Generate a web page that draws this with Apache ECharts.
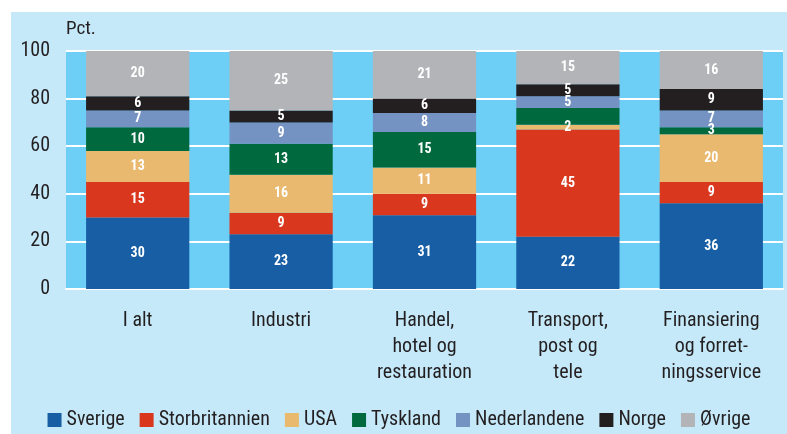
<!DOCTYPE html>
<html>
<head>
<meta charset="utf-8">
<title>Andel etter land</title>
<style>
  html, body { margin: 0; padding: 0; background: #fff; }
  #chart { position: absolute; left: 11px; top: 12px; width: 776px; height: 422px; }
</style>
</head>
<body>
<div id="chart"></div>
<script src="https://cdn.jsdelivr.net/npm/echarts@6/dist/echarts.min.js"></script>
<script>
// kategorier
var categories = ['I alt', 'Industri', 'Handel,\nhotel og\nrestauration', 'Transport,\npost og\ntele', 'Finansiering\nog forret-\nningsservice'];

// andel i pct. per land
var sverige        = [30, 23, 31, 22, 36];
var storbritannien = [15,  9,  9, 45,  9];
var usa            = [13, 16, 11,  2, 20];
var tyskland       = [10, 13, 15,  7,  3];
var nederlandene   = [ 7,  9,  8,  5,  7];
var norge          = [ 6,  5,  6,  5,  9];
var ovrige         = [20, 25, 21, 15, 16];

var countries = ['Sverige', 'Storbritannien', 'USA', 'Tyskland', 'Nederlandene', 'Norge', 'Øvrige'];
var values = [sverige, storbritannien, usa, tyskland, nederlandene, norge, ovrige];
var colors = ['#175ea4', '#d9381e', '#e8b96e', '#006a3e', '#7593c2', '#231f20', '#b3b4b7'];
// segments without a printed value: [series, category]
var unlabeled = [[3, 3]];

var font = '"Liberation Sans Narrow", "Roboto Condensed", "Noto Sans", sans-serif';

var series = countries.map(function (name, s) {
    return {
        name: name,
        type: 'bar',
        stack: 'total',
        barWidth: '72%',
        itemStyle: { color: colors[s] },
        label: {
            show: true,
            position: 'inside',
            color: '#fff',
            fontWeight: 'bold',
            fontSize: 14,
            fontFamily: font
        },
        emphasis: { disabled: true },
        data: values[s].map(function (v, c) {
            var hide = unlabeled.some(function (u) { return u[0] === s && u[1] === c; });
            return hide ? { value: v, label: { show: false } } : v;
        })
    };
});

var chart = echarts.init(document.getElementById('chart'));
chart.setOption({
    backgroundColor: '#c5e9f9',
    animation: false,
    textStyle: { fontFamily: font, color: '#231f20' },
    grid: {
        left: 55, right: 4, top: 39, bottom: 145,
        show: true, backgroundColor: '#6dcff6', borderWidth: 0
    },
    graphic: [{
        type: 'text', left: 55, top: 8,
        style: { text: 'Pct.', font: '19px ' + font, fill: '#231f20' }
    }],
    legend: {
        left: 'center', top: 393,
        itemWidth: 14, itemHeight: 14, itemGap: 15,
        icon: 'rect',
        textStyle: { fontSize: 20, color: '#231f20', fontFamily: font },
        data: countries
    },
    xAxis: {
        type: 'category',
        data: categories,
        axisLine: { lineStyle: { color: '#fff', width: 2 } },
        axisTick: { show: false },
        axisLabel: {
            fontSize: 20, lineHeight: 26, margin: 19, color: '#231f20', fontFamily: font
        }
    },
    yAxis: {
        type: 'value',
        min: 0, max: 100, interval: 20,
        axisLine: { show: false },
        axisTick: { show: false },
        splitLine: { lineStyle: { color: '#fff', width: 2 } },
        axisLabel: { fontSize: 20, margin: 16, color: '#231f20', fontFamily: font }
    },
    series: series
});
</script>
</body>
</html>
